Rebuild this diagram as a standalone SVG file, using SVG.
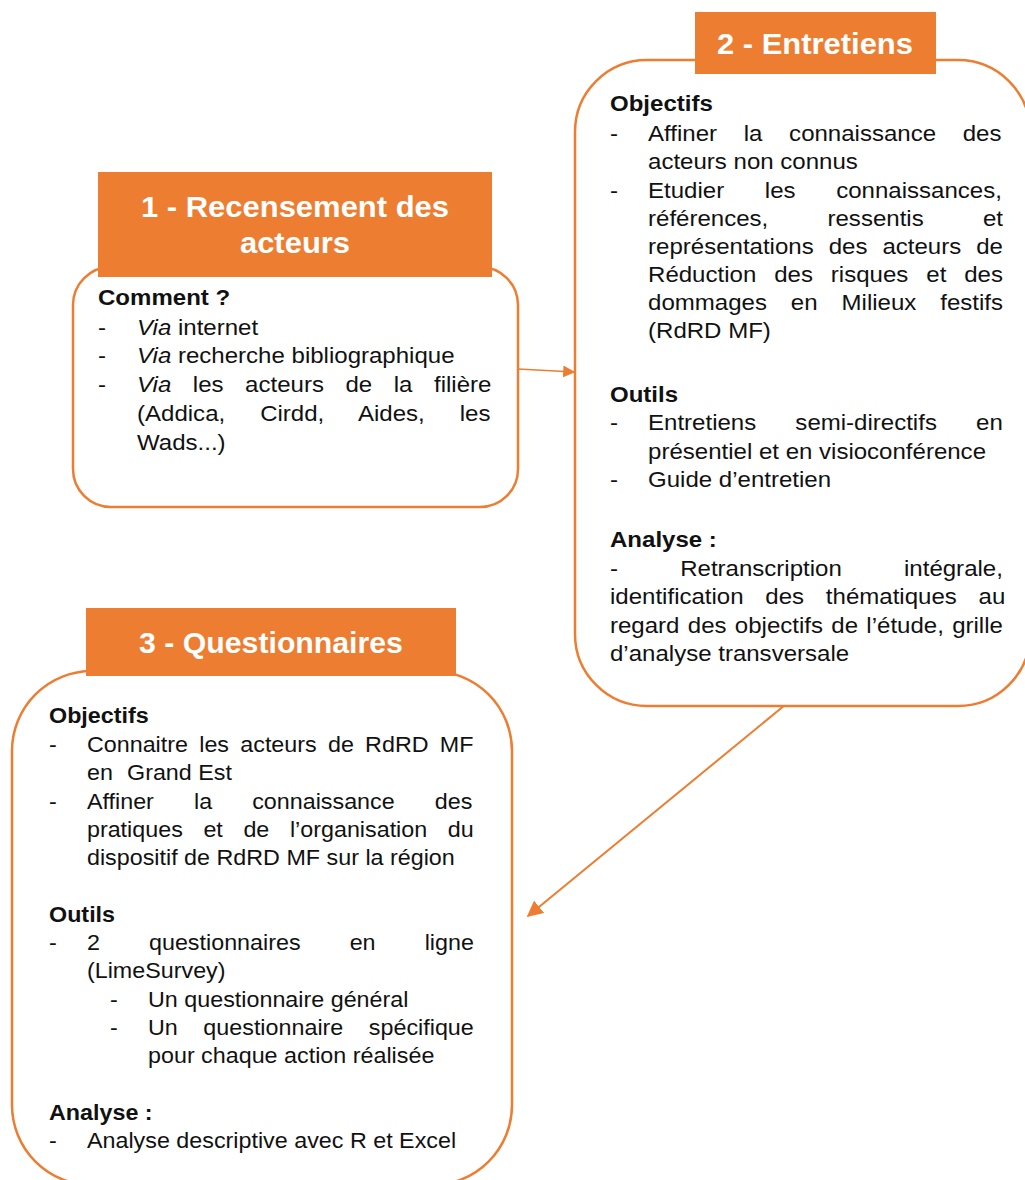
<svg xmlns="http://www.w3.org/2000/svg" width="1025" height="1180" viewBox="0 0 1025 1180">
<style>
.box{fill:#fff;stroke:#ED7D31;stroke-width:2.5}
.hdr{fill:#ED7D31}
.h{font-family:"Liberation Sans",Arial,sans-serif;font-weight:bold;font-size:29px;fill:#fff;text-anchor:middle}
.t{font-family:"Liberation Sans",Arial,sans-serif;font-size:22px;fill:#111}
.b{font-weight:bold}
.i{font-style:italic}
.e{text-anchor:end}
.con{stroke:#ED7D31;fill:none}
</style>
<defs>
<marker id="ah" viewBox="0 0 10 10" refX="9" refY="5" markerWidth="8" markerHeight="8" orient="auto">
<path d="M0,0 L10,5 L0,10 z" fill="#ED7D31"/>
</marker>
</defs>
<rect width="1025" height="1180" fill="#fff"/>

<g id="connectors">
<line class="con" x1="518" y1="369" x2="574" y2="372" stroke-width="1.5" marker-end="url(#ah)"/>
<line class="con" x1="785" y1="705" x2="528" y2="916" stroke-width="2" marker-end="url(#ah)"/>
</g>

<g id="node1">
<rect class="box" x="73" y="267" width="445" height="240" rx="38"/>
<rect class="hdr" x="98" y="172" width="394" height="105"/>
<g transform="translate(295,0) scale(1.068,1)">
<text class="h" x="0" y="217">1 - Recensement des</text>
<text class="h" x="0" y="253">acteurs</text>
</g>
<g transform="translate(98,0) scale(1.093,1)">
<text class="t b" x="0" y="305">Comment ?</text>
<text class="t" x="0" y="335">-</text><text class="t" x="35.7" y="335"><tspan class="i">Via</tspan> internet</text>
<text class="t" x="0" y="363">-</text><text class="t" x="35.7" y="363"><tspan class="i">Via</tspan> recherche bibliographique</text>
<text class="t" x="0" y="392">-</text><text class="t" x="35.7" y="392" style="word-spacing:13.6px"><tspan class="i">Via</tspan> les acteurs de la filière</text>
<text class="t" x="35.7" y="421" style="word-spacing:25.9px">(Addica, Cirdd, Aides, les</text>
<text class="t" x="35.7" y="450">Wads...)</text>
</g>
</g>

<g id="node2">
<rect class="box" x="575" y="60" width="455" height="646" rx="72"/>
<rect class="hdr" x="695" y="12" width="241" height="62"/>
<g transform="translate(815,0) scale(1.067,1)">
<text class="h" x="0" y="54">2 - Entretiens</text>
</g>
<g transform="translate(610,0) scale(1.093,1)">
<text class="t b" x="0" y="111">Objectifs</text>
<text class="t" x="0" y="141">-</text><text class="t" x="34.8" y="141" style="word-spacing:18.3px">Affiner la connaissance des</text>
<text class="t" x="34.8" y="169">acteurs non connus</text>
<text class="t" x="0" y="198">-</text><text class="t" x="34.8" y="198" style="word-spacing:31.1px">Etudier les connaissances,</text>
<text class="t" x="34.8" y="226" style="word-spacing:48.1px">références, ressentis et</text>
<text class="t" x="34.8" y="254" style="word-spacing:7.6px">représentations des acteurs de</text>
<text class="t" x="34.8" y="282" style="word-spacing:10.3px">Réduction des risques et des</text>
<text class="t" x="34.8" y="310" style="word-spacing:15.8px">dommages en Milieux festifs</text>
<text class="t" x="34.8" y="338">(RdRD MF)</text>
<text class="t b" x="0" y="402">Outils</text>
<text class="t" x="0" y="430">-</text><text class="t" x="34.8" y="430" style="word-spacing:29.7px">Entretiens semi-directifs en</text>
<text class="t" x="34.8" y="459">présentiel et en visioconférence</text>
<text class="t" x="0" y="487">-</text><text class="t" x="34.8" y="487">Guide d’entretien</text>
<text class="t b" x="0" y="547">Analyse :</text>
<text class="t" x="0" y="576" style="word-spacing:50.8px">- Retranscription intégrale,</text>
<text class="t" x="0" y="604" style="word-spacing:13.8px">identification des thématiques au</text>
<text class="t" x="0" y="633" style="word-spacing:1.5px">regard des objectifs de l’étude, grille</text>
<text class="t" x="0" y="661">d’analyse transversale</text>
</g>
</g>

<g id="node3">
<rect class="box" x="12" y="671" width="500" height="514" rx="80"/>
<rect class="hdr" x="86" y="608" width="370" height="68"/>
<g transform="translate(271,0) scale(1.043,1)">
<text class="h" x="0" y="653">3 - Questionnaires</text>
</g>
<g transform="translate(49,0) scale(1.06,1)">
<text class="t b" x="0" y="723">Objectifs</text>
<text class="t" x="0" y="752">-</text><text class="t" x="35.8" y="752" style="word-spacing:4.5px">Connaitre les acteurs de RdRD MF</text>
<text class="t" x="35.8" y="780">en</text><text class="t" x="73.6" y="780">Grand Est</text>
<text class="t" x="0" y="809">-</text><text class="t" x="35.8" y="809" style="word-spacing:31.7px">Affiner la connaissance des</text>
<text class="t" x="35.8" y="837" style="word-spacing:13.3px">pratiques et de l’organisation du</text>
<text class="t" x="35.8" y="865">dispositif de RdRD MF sur la région</text>
<text class="t b" x="0" y="922">Outils</text>
<text class="t" x="0" y="950">-</text><text class="t" x="35.8" y="950" style="word-spacing:40.2px">2 questionnaires en ligne</text>
<text class="t" x="35.8" y="978">(LimeSurvey)</text>
<text class="t" x="57.5" y="1007">-</text><text class="t" x="93.4" y="1007">Un questionnaire général</text>
<text class="t" x="57.5" y="1035">-</text><text class="t" x="93.4" y="1035" style="word-spacing:18px">Un questionnaire spécifique</text>
<text class="t" x="93.4" y="1063">pour chaque action réalisée</text>
<text class="t b" x="0" y="1120">Analyse :</text>
<text class="t" x="0" y="1148">-</text><text class="t" x="35.8" y="1148">Analyse descriptive avec R et Excel</text>
</g>
</g>
</svg>
